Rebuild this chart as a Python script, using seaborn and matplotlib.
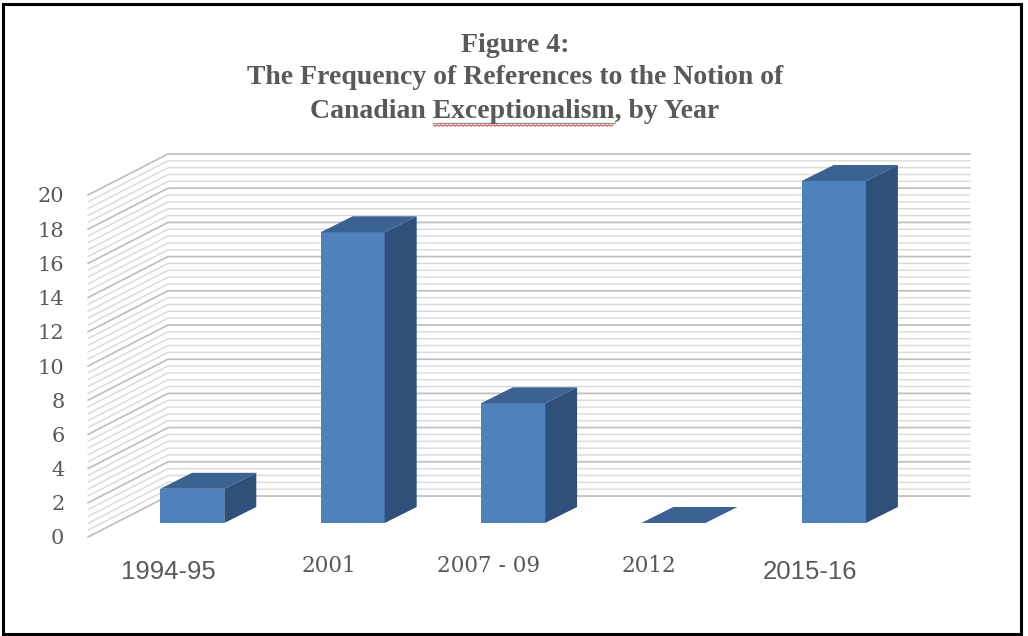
import numpy as np
import matplotlib
matplotlib.use("Agg")
import matplotlib.pyplot as plt
import seaborn as sns
from matplotlib.transforms import ScaledTranslation, IdentityTransform
from matplotlib.patches import Polygon, Rectangle
from matplotlib.lines import Line2D

# ---- data -------------------------------------------------------------
periods = ["1994-95", "2001", "2007 - 09", "2012", "2015-16"]
references = [2, 17, 7, 0, 20]
y_ticks = list(range(0, 21, 2))
title_lines = [
    "Figure 4:",
    "The Frequency of References to the Notion of",
    "Canadian Exceptionalism, by Year",
]

# ---- styling ----------------------------------------------------------
sns.set_theme(style="white")
plt.rcParams["font.family"] = ["DejaVu Serif", "DejaVu Sans"]

TEXT = "#595959"
FRONT = "#4f81bd"
TOP = "#3b6391"
SIDE = "#2f5079"
GRID_MAJOR = "#c0c0c0"
GRID_MINOR = "#d9d9d9"

W, H, DPI = 1028, 636, 100
fig = plt.figure(figsize=(W / DPI, H / DPI), dpi=DPI)

# front plane of the 3-D box, in pixels from the top-left corner
FX0, FX1, FY0, FY20 = 88, 890, 537, 195
ax = fig.add_axes([FX0 / W, 1 - FY0 / H, (FX1 - FX0) / W, (FY0 - FY20) / H])

# depth vectors in display pixels (x right, y up)
WALL = np.array([80.0, 41.0])
BAR_OFF = np.array([24.0, 14.0])
BAR_DEPTH = np.array([32.0, 16.0])

sns.barplot(x=periods, y=references, width=0.4, color=FRONT, saturation=1,
            errorbar=None, linewidth=0, ax=ax, zorder=3)
ax.set_xlim(-0.5, 4.5)
ax.set_ylim(0, 20)
ax.patch.set_alpha(0)
for s in ax.spines.values():
    s.set_visible(False)
ax.set_xlabel("")
ax.set_ylabel("")


def disp(x, y):
    return ax.transData.transform((x, y))


# back wall and side wall grid lines
for v in np.arange(0, 20.001, 0.4):
    major = abs(v / 2 - round(v / 2)) < 1e-6
    c = GRID_MAJOR if major else GRID_MINOR
    p_front = disp(-0.5, v)
    p_back = p_front + WALL
    p_right = disp(4.5, v) + WALL
    ax.add_line(Line2D([p_front[0], p_back[0], p_right[0]],
                       [p_front[1], p_back[1], p_right[1]],
                       transform=IdentityTransform(), color=c,
                       lw=1.3 if major else 1.0, zorder=1, clip_on=False))

# bars: shift the front faces into the box, then add top and side faces
bar_shift = ScaledTranslation(BAR_OFF[0] / DPI, BAR_OFF[1] / DPI, fig.dpi_scale_trans)
for p in list(ax.patches):
    p.set_transform(ax.transData + bar_shift)
    p.set_clip_on(False)
    x0, w, h = p.get_x(), p.get_width(), p.get_height()
    br = disp(x0 + w, 0) + BAR_OFF
    tl = disp(x0, h) + BAR_OFF
    tr = disp(x0 + w, h) + BAR_OFF
    side = Polygon([br, tr, tr + BAR_DEPTH, br + BAR_DEPTH], closed=True,
                   transform=IdentityTransform(), facecolor=SIDE, edgecolor="none",
                   zorder=3, clip_on=False)
    top = Polygon([tl, tr, tr + BAR_DEPTH, tl + BAR_DEPTH], closed=True,
                  transform=IdentityTransform(), facecolor=TOP, edgecolor="none",
                  zorder=3, clip_on=False)
    ax.add_patch(side)
    ax.add_patch(top)

# y axis labels
ax.set_yticks(y_ticks)
ax.set_yticklabels([str(t) for t in y_ticks])
ax.tick_params(axis="y", length=0, pad=17, labelsize=15, labelcolor=TEXT)

# category labels (mixed fonts)
ax.set_xticks([])
label_style = {
    "1994-95": dict(family="Liberation Sans", size=18.5, drop=35),
    "2001": dict(family="DejaVu Serif", size=15.5, drop=29),
    "2007 - 09": dict(family="DejaVu Serif", size=15.5, drop=29),
    "2012": dict(family="DejaVu Serif", size=15.5, drop=29),
    "2015-16": dict(family="Liberation Sans", size=18.5, drop=35),
}
for i, lab in enumerate(periods):
    st = label_style[lab]
    tr = ax.get_xaxis_transform() + ScaledTranslation(0, -st["drop"] / DPI, fig.dpi_scale_trans)
    ax.text(i, 0, lab, transform=tr, ha="center", va="center",
            family=st["family"], fontsize=st["size"], color=TEXT)

# title
title_y = [46, 78, 111]
title_font = dict(family="Liberation Serif", weight="bold", fontsize=20, color=TEXT)
title_texts = []
for line, yc in zip(title_lines, title_y):
    t = fig.text(515 / W, 1 - yc / H, line, ha="center", va="center", **title_font)
    title_texts.append(t)

# underline for the word "Exceptionalism"
renderer = fig.canvas.get_renderer()
line3 = title_texts[2]
bb = line3.get_window_extent(renderer)


def text_width(s):
    tmp = fig.text(0, 0, s, **title_font)
    wpx = tmp.get_window_extent(renderer).width
    tmp.remove()
    return wpx


w_prefix_word = text_width("Canadian Exceptionalism")
w_word = text_width("Exceptionalism")
ux0 = bb.x0 + w_prefix_word - w_word
ux1 = bb.x0 + w_prefix_word
uy = H - 123
fig.add_artist(Line2D([ux0, ux1], [uy, uy], transform=IdentityTransform(),
                      color="#8c8c8c", lw=0.8))
zx = np.arange(ux0, ux1, 2.0)
zy = (H - 125.5) + np.where(np.arange(len(zx)) % 2 == 0, 0.7, -0.7)
fig.add_artist(Line2D(zx, zy, transform=IdentityTransform(), color="#e03030", lw=0.7))

# frame around the chart
fig.add_artist(Rectangle((2.5, 2.5), 1018, 630, transform=IdentityTransform(),
                         fill=False, edgecolor="black", lw=2.2))

fig.savefig("out.png", dpi=DPI)
